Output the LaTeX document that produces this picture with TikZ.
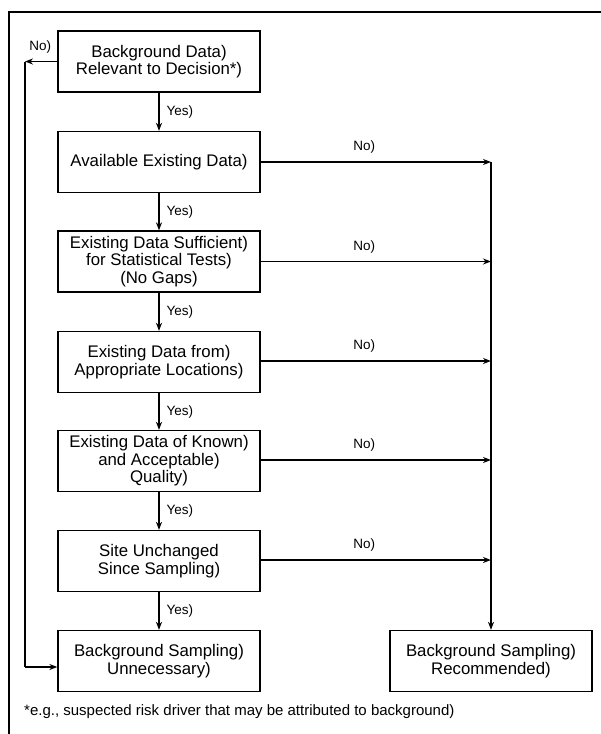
\documentclass[tikz,border=0pt]{standalone}
\usepackage{fontspec}
\setmainfont{Liberation Sans}
\usetikzlibrary{arrows.meta}
\begin{document}
\begin{tikzpicture}[x=1pt,y=-1pt,
  box/.style={draw,line width=1.3pt,minimum width=202pt,minimum height=61pt,inner sep=0pt,
    align=center,font=\fontsize{16.8}{17.5}\selectfont},
  lbl/.style={font=\fontsize{13.5}{15}\selectfont,inner sep=0pt},
  conn/.style={line width=1.3pt,-{Stealth[length=8pt,width=6pt]}},
  plain/.style={line width=1.3pt}]
\useasboundingbox (0,0) rectangle (601,734);
\draw[line width=1.4pt] (9,734) -- (9,12) -- (601,12);
\node[box] (b1) at (159,61.5) {Background Data)\\Relevant to Decision*)};
\node[box] (b2) at (159,162) {Available Existing Data)};
\node[box] (b3) at (159,261.5) {Existing Data Sufficient)\\for Statistical Tests)\\(No Gaps)};
\node[box] (b4) at (159,362) {Existing Data from)\\Appropriate Locations)};
\node[box] (b5) at (159,461) {Existing Data of Known)\\and Acceptable)\\Quality)};
\node[box] (b6) at (159,561) {Site Unchanged\\Since Sampling)};
\node[box] (b7) at (159,661) {Background Sampling)\\Unnecessary)};
\node[box] (b8) at (491,661) {Background Sampling)\\Recommended)};
% yes arrows
\foreach \a/\b in {b1/b2,b2/b3,b3/b4,b4/b5,b5/b6,b6/b7}{
  \draw[conn] (\a.south) -- (\b.north) node[midway,right=7pt,lbl] {Yes)};
}
% right column
\coordinate (r1) at (491,162);
\coordinate (r2) at (491,261.5);
\coordinate (r3) at (491,361);
\coordinate (r4) at (491,460);
\coordinate (r5) at (491,560);
\foreach \a/\c in {b2/r1,b3/r2,b4/r3,b5/r4,b6/r5}{
  \draw[conn] (\a.east |- \c) -- (\c) node[pos=0.45,above=8pt,lbl] {No)};
}
\draw[conn] (r1) -- (b8.north);
% left loop
\coordinate (l1) at (25,61.5);
\coordinate (l2) at (25,667);
\draw[conn] (b1.west) -- (l1) node[pos=0.5,above=8pt,xshift=-1pt,lbl] {No)};
\draw[plain] (l1) -- (l2);
\draw[conn] (l2) -- (b7.west |- l2);
\node[anchor=west,inner sep=0pt,font=\fontsize{15}{17}\selectfont] (fn) at (24,712) {*e.g., suspected risk driver that may be attributed to background)};
\end{tikzpicture}
\end{document}
